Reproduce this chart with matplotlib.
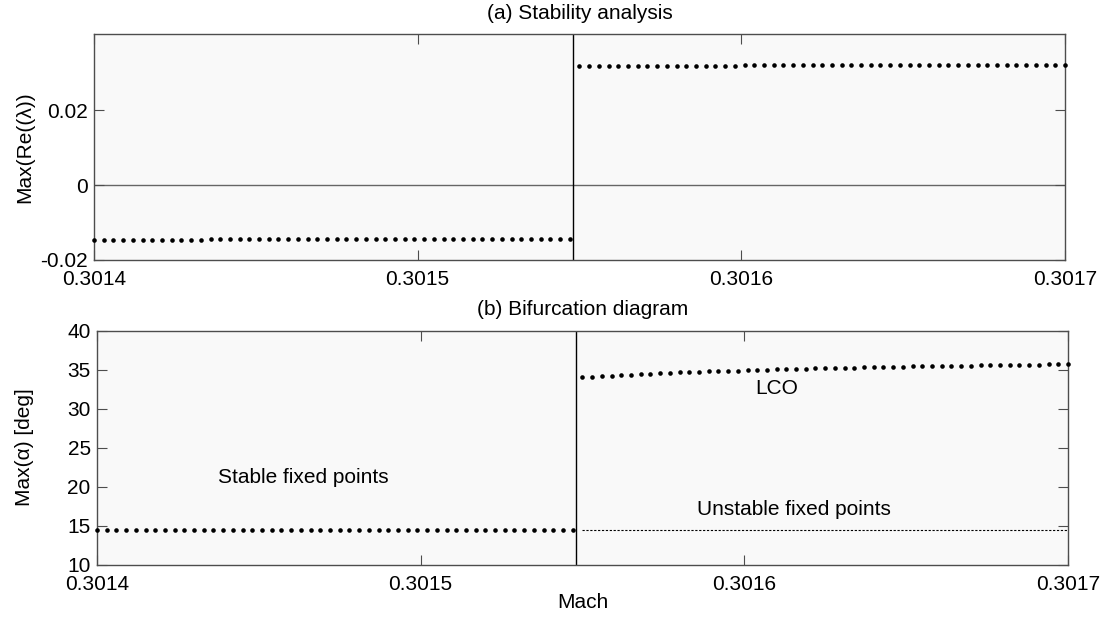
import numpy as np
import matplotlib
matplotlib.use("Agg")
import matplotlib.pyplot as plt

plt.rcParams['font.family'] = ['Liberation Sans', 'DejaVu Sans']
plt.rcParams['axes.unicode_minus'] = False

# Mach grid (uniform step, ~3e-6)
mach_stable = np.linspace(0.3014, 0.301547, 50)
mach_unstable = np.linspace(0.30155, 0.3017, 51)
mach_hopf = 0.301548

# (a) max real part of the eigenvalues
eig_stable = [-0.01459, -0.01459, -0.01458, -0.01458, -0.01457, -0.01457, -0.01456, -0.01456, -0.01455, -0.01455,
              -0.01454, -0.01454, -0.01453, -0.01453, -0.01452, -0.01452, -0.01451, -0.01451, -0.01450, -0.01450,
              -0.01449, -0.01449, -0.01448, -0.01448, -0.01447, -0.01447, -0.01446, -0.01446, -0.01445, -0.01445,
              -0.01445, -0.01444, -0.01444, -0.01444, -0.01443, -0.01443, -0.01443, -0.01442, -0.01442, -0.01442,
              -0.01441, -0.01441, -0.01441, -0.01441, -0.01440, -0.01440, -0.01440, -0.01440, -0.01440, -0.01440]
eig_unstable = [0.03181, 0.03181, 0.03182, 0.03182, 0.03182, 0.03183, 0.03183, 0.03184, 0.03184, 0.03184,
                0.03185, 0.03185, 0.03186, 0.03186, 0.03186, 0.03187, 0.03187, 0.03188, 0.03188, 0.03188,
                0.03189, 0.03189, 0.03190, 0.03190, 0.03190, 0.03191, 0.03191, 0.03192, 0.03192, 0.03192,
                0.03193, 0.03193, 0.03194, 0.03194, 0.03194, 0.03195, 0.03195, 0.03196, 0.03196, 0.03196,
                0.03197, 0.03197, 0.03198, 0.03198, 0.03198, 0.03199, 0.03199, 0.03199, 0.03200, 0.03200, 0.03200]

# (b) max pitch angle [deg]
alpha_stable = [14.42, 14.42, 14.42, 14.42, 14.42, 14.42, 14.42, 14.42, 14.42, 14.42,
                14.42, 14.42, 14.42, 14.42, 14.42, 14.42, 14.42, 14.42, 14.42, 14.42,
                14.42, 14.42, 14.42, 14.42, 14.42, 14.42, 14.42, 14.42, 14.42, 14.42,
                14.42, 14.42, 14.42, 14.42, 14.42, 14.42, 14.42, 14.42, 14.42, 14.42,
                14.42, 14.42, 14.42, 14.42, 14.42, 14.42, 14.42, 14.42, 14.42, 14.42]
alpha_unstable = [14.42, 14.42, 14.42, 14.42, 14.42, 14.42, 14.42, 14.42, 14.42, 14.42,
                  14.42, 14.42, 14.42, 14.42, 14.42, 14.42, 14.42, 14.42, 14.42, 14.42,
                  14.42, 14.42, 14.42, 14.42, 14.42, 14.42, 14.42, 14.42, 14.42, 14.42,
                  14.42, 14.42, 14.42, 14.42, 14.42, 14.42, 14.42, 14.42, 14.42, 14.42,
                  14.42, 14.42, 14.42, 14.42, 14.42, 14.42, 14.42, 14.42, 14.42, 14.42, 14.42]
alpha_lco = [34.02, 34.10, 34.17, 34.24, 34.31, 34.38, 34.44, 34.50, 34.55, 34.60,
             34.65, 34.69, 34.74, 34.78, 34.82, 34.86, 34.89, 34.93, 34.97, 35.00,
             35.03, 35.07, 35.10, 35.13, 35.16, 35.19, 35.22, 35.25, 35.27, 35.30,
             35.32, 35.35, 35.37, 35.39, 35.41, 35.43, 35.45, 35.47, 35.49, 35.51,
             35.53, 35.55, 35.57, 35.59, 35.60, 35.62, 35.64, 35.65, 35.67, 35.68, 35.69]

xticks = [0.3014, 0.3015, 0.3016, 0.3017]
xticklabels = ['0.3014', '0.3015', '0.3016', '0.3017']

FS = 15
AXC = '#4d4d4d'
BG = '#f9f9f9'

fig = plt.figure(figsize=(11.02, 6.22), dpi=100)
ax1 = fig.add_axes([0.0853, 0.582, 0.8811, 0.3629], facecolor=BG)
ax2 = fig.add_axes([0.0880, 0.0924, 0.8811, 0.3759], facecolor=BG)


def style(ax):
    for s in ax.spines.values():
        s.set_color(AXC)
        s.set_linewidth(1.0)
    ax.tick_params(direction='in', length=7, width=0.8, color=AXC,
                   top=True, right=True, labelsize=FS)
    ax.tick_params(axis='x', pad=7.5)
    ax.tick_params(axis='y', pad=4.5)
    ax.set_xlim(0.3014, 0.3017)
    ax.set_xticks(xticks)
    ax.set_xticklabels(xticklabels)


dot = dict(linestyle='none', marker='o', markersize=3.3, markeredgewidth=0,
           color='k', clip_on=False, zorder=3)

# (a) stability
style(ax1)
ax1.axhline(0, color='#666666', lw=1.0, zorder=1)
ax1.axvline(mach_hopf, color='k', lw=1.0, zorder=2)
ax1.plot(mach_stable, eig_stable, **dot)
ax1.plot(mach_unstable, eig_unstable, **dot)
ax1.set_ylim(-0.02, 0.0402)
ax1.set_yticks([-0.02, 0, 0.02])
ax1.set_yticklabels(['-0.02', '0', '0.02'])
ax1.set_ylabel('Max(Re((λ))', fontsize=FS)
ax1.yaxis.set_label_coords(-0.062, 0.5)
ax1.set_title('(a) Stability analysis', fontsize=FS, pad=11)

# (b) bifurcation
style(ax2)
ax2.axvline(mach_hopf, color='k', lw=1.0, zorder=2)
ax2.plot(mach_stable, alpha_stable, **dot)
ax2.plot(mach_unstable, alpha_unstable, color='k', lw=0.8, linestyle=(0, (2, 1.5)), zorder=2)
ax2.plot(mach_unstable, alpha_lco, **dot)
ax2.set_ylim(10, 40)
ax2.set_yticks([10, 15, 20, 25, 30, 35, 40])
ax2.set_ylabel('Max(α) [deg]', fontsize=FS)
ax2.yaxis.set_label_coords(-0.065, 0.5)
ax2.set_xlabel('Mach', fontsize=FS, labelpad=-1)
ax2.set_title('(b) Bifurcation diagram', fontsize=FS, pad=11)

ax2.text(0.3014636, 20.5, 'Stable fixed points', fontsize=FS, ha='center', va='baseline')
ax2.text(0.3016152, 16.34, 'Unstable fixed points', fontsize=FS, ha='center', va='baseline')
ax2.text(0.3016100, 31.87, 'LCO', fontsize=FS, ha='center', va='baseline')

fig.savefig('out.png', dpi=100, facecolor='white')
